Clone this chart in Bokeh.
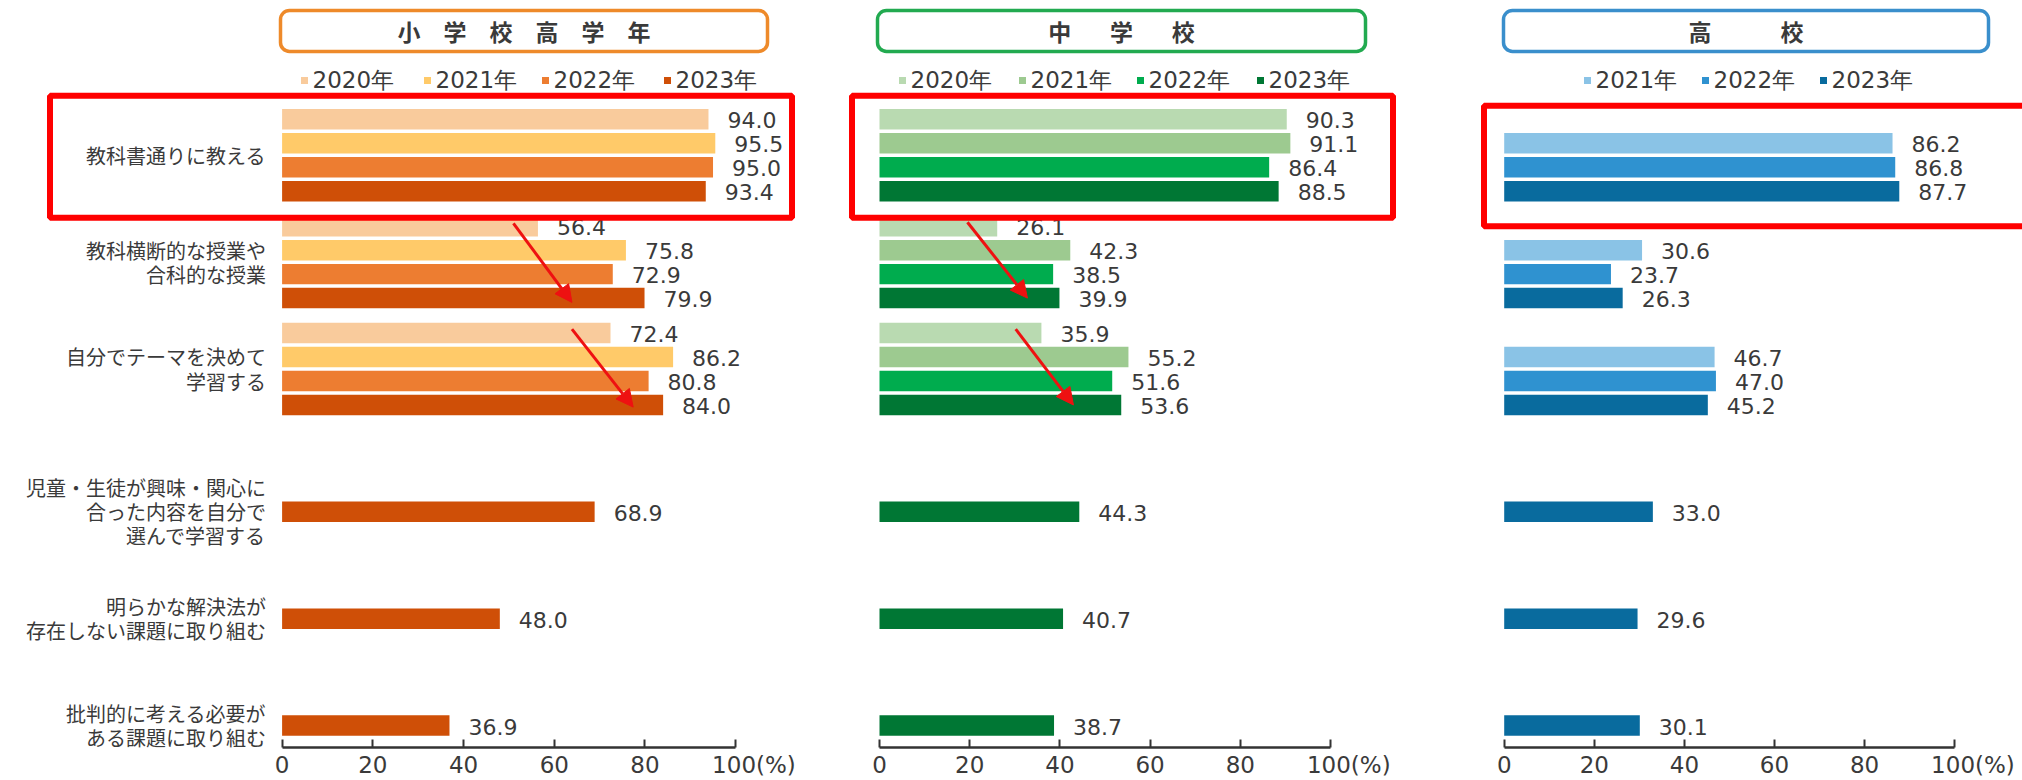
from bokeh.plotting import figure
from bokeh.models import (ColumnDataSource, Range1d, FixedTicker, BoxAnnotation,
                          Arrow, NormalHead)
from bokeh.layouts import row
from bokeh.core.properties import value
from bokeh.embed import file_html
from bokeh.resources import INLINE

# ---------------- data ----------------
categories = [
    "教科書通りに教える",
    "教科横断的な授業や\n合科的な授業",
    "自分でテーマを決めて\n学習する",
    "児童・生徒が興味・関心に\n合った内容を自分で\n選んで学習する",
    "明らかな解決法が\n存在しない課題に取り組む",
    "批判的に考える必要が\nある課題に取り組む",
]

elem_years = ["2020年", "2021年", "2022年", "2023年"]
elem_2020 = [94.0, 56.4, 72.4]
elem_2021 = [95.5, 75.8, 86.2]
elem_2022 = [95.0, 72.9, 80.8]
elem_2023 = [93.4, 79.9, 84.0, 68.9, 48.0, 36.9]
elem_colors = ["#F9CB9C", "#FFCA69", "#ED7D31", "#CF4F07"]

jhs_years = ["2020年", "2021年", "2022年", "2023年"]
jhs_2020 = [90.3, 26.1, 35.9]
jhs_2021 = [91.1, 42.3, 55.2]
jhs_2022 = [86.4, 38.5, 51.6]
jhs_2023 = [88.5, 39.9, 53.6, 44.3, 40.7, 38.7]
jhs_colors = ["#B9DAB1", "#9DCA90", "#00AC4E", "#007734"]

hs_years = ["2021年", "2022年", "2023年"]
hs_2021 = [86.2, 30.6, 46.7]
hs_2022 = [86.8, 23.7, 47.0]
hs_2023 = [87.7, 26.3, 45.2, 33.0, 29.6, 30.1]
hs_colors = ["#8AC3E6", "#2F92D0", "#096B9E"]

panel_titles = ["小　学　校　高　学　年",
                "中\u3000\u00a0\u00a0\u00a0学\u3000\u00a0\u00a0\u00a0校",
                "高\u3000\u3000\u3000校"]
title_colors = ["#EE8A2A", "#22AA50", "#3A8FCC"]

x_ticks = [0, 20, 40, 60, 80, 100]
x_tick_labels = ["0", "20", "40", "60", "80", "\u00a0" * 5 + "100(%)"]

# red arrows (start x, start y, end x, end y) in value / category units
elem_arrows = [(51.0, 0.30, 63.9, 1.04), (63.9, 1.29, 77.4, 2.02)]
jhs_arrows = [(19.5, 0.29, 32.8, 1.0), (30.2, 1.29, 43.0, 2.0)]

# ---------------- layout constants ----------------
UNIT = 107.0          # px between categories
Y0 = 191.0            # px of first category's newest bar
AXIS_PX = 748.0
PITCH = 24.0 / UNIT   # distance between year bars
BAR_H = 20.5 / UNIT
TEXT = "#3A3A3A"


def ypx(px):
    return (px - Y0) / UNIT


panels = [
    dict(width=830, left=0, x0=281.6, scale=4.536),
    dict(width=610, left=830, x0=879.0, scale=4.51),
    dict(width=582, left=1440, x0=1503.7, scale=4.505),
]


def make_fig(cfg):
    def xpx(px):
        return (px - cfg["x0"]) / cfg["scale"]
    p = figure(width=cfg["width"], height=780,
               x_range=Range1d(xpx(cfg["left"]), xpx(cfg["left"] + cfg["width"])),
               y_range=Range1d(ypx(AXIS_PX), ypx(0)),
               output_backend="svg", toolbar_location=None,
               y_axis_location=None,
               min_border_left=0, min_border_right=0,
               min_border_top=0, min_border_bottom=32)
    p.xgrid.visible = False
    p.ygrid.visible = False
    p.outline_line_color = None
    p.background_fill_color = "white"
    p.border_fill_color = "white"
    ax = p.xaxis[0]
    ax.ticker = FixedTicker(ticks=x_ticks)
    ax.major_label_overrides = {t: l for t, l in zip(x_ticks, x_tick_labels)}
    ax.bounds = (0, 100)
    ax.axis_line_color = "#333333"
    ax.axis_line_width = 2.5
    ax.major_tick_line_color = "#333333"
    ax.major_tick_line_width = 2
    ax.major_tick_in = 8
    ax.major_tick_out = 0
    ax.minor_tick_line_color = None
    ax.major_label_standoff = 4
    ax.major_label_text_font = "DejaVu Sans"
    ax.major_label_text_font_size = "23px"
    ax.major_label_text_color = TEXT
    return p, xpx


def add_panel(p, xpx, series, colors, years, legend_px, title, tcolor,
              box_px, red_px, arrows):
    n = len(series)
    ys, vs, cs, labels = [], [], [], []
    for j, (vals, col) in enumerate(zip(series, colors)):
        k = n - 1 - j
        for c, v in enumerate(vals):
            ys.append(c - k * PITCH)
            vs.append(v)
            cs.append(col)
            labels.append(f"{v:.1f}")
    src = ColumnDataSource(dict(y=ys, v=vs, c=cs, lbl=labels))
    p.hbar(y="y", left=0, right="v", height=BAR_H, fill_color="c",
           line_color=None, source=src)
    p.text(x="v", y="y", text="lbl", source=src, x_offset=19, y_offset=1,
           text_align="left", text_baseline="middle",
           text_font=value("DejaVu Sans"), text_font_size="22px",
           text_color=TEXT)

    # title box
    bx0, bx1 = box_px
    p.add_layout(BoxAnnotation(left=xpx(bx0), right=xpx(bx1), top=ypx(10),
                               bottom=ypx(51), fill_color=None, fill_alpha=0,
                               line_color=tcolor, line_alpha=1.0,
                               line_width=3.5, border_radius=9))
    p.text(x=[xpx((bx0 + bx1) / 2)], y=[ypx(31)], text=[title],
           text_align="center", text_baseline="middle",
           text_font=value("Noto Sans CJK JP"), text_font_size="23px",
           text_font_style="bold", text_color=TEXT)

    # legend
    lx = [xpx(px) for px in legend_px]
    ly = [ypx(80)] * len(lx)
    p.scatter(x=lx, y=ly, marker="square", size=7, fill_color=colors,
              line_color=None)
    p.text(x=lx, y=ly, text=years, x_offset=8, text_align="left",
           text_baseline="middle", text_font=value("DejaVu Sans"),
           text_font_size="23px", text_color=TEXT)

    # red highlight box
    rx0, rx1, ry0, ry1 = red_px
    p.add_layout(BoxAnnotation(left=xpx(rx0), right=xpx(rx1), top=ypx(ry0),
                               bottom=ypx(ry1), fill_color=None, fill_alpha=0,
                               line_color="#FF0000", line_alpha=1.0,
                               line_width=6))
    for (xs, ys_, xe, ye) in arrows:
        p.add_layout(Arrow(end=NormalHead(size=17, fill_color="#EE1111",
                                          line_color="#EE1111"),
                           x_start=xs, y_start=ys_, x_end=xe, y_end=ye,
                           line_color="#EE1111", line_width=3))


# ---- panel 1: elementary ----
p1, x1 = make_fig(panels[0])
add_panel(p1, x1, [elem_2020, elem_2021, elem_2022, elem_2023], elem_colors,
          elem_years, [304, 427, 545, 667], panel_titles[0], title_colors[0],
          (280, 767), (49.5, 791.5, 95.5, 217.5), elem_arrows)
cat_y = [c - 1.5 * PITCH if c < 3 else c for c in range(len(categories))]
p1.text(x=[0] * len(categories), y=cat_y, text=categories, x_offset=-16,
        text_align="right", text_baseline="middle",
        text_font=value("Noto Sans CJK JP"), text_font_size="20px",
        text_line_height=0.83, text_color=TEXT)

# ---- panel 2: junior high ----
p2, x2 = make_fig(panels[1])
add_panel(p2, x2, [jhs_2020, jhs_2021, jhs_2022, jhs_2023], jhs_colors,
          jhs_years, [902, 1022, 1140, 1260], panel_titles[1], title_colors[1],
          (877, 1365), (851.5, 1392.5, 95.5, 217.5), jhs_arrows)

# ---- panel 3: high school ----
p3, x3 = make_fig(panels[2])
add_panel(p3, x3, [hs_2021, hs_2022, hs_2023], hs_colors,
          hs_years, [1587, 1705, 1823], panel_titles[2], title_colors[2],
          (1503, 1988), (1483.5, 2040, 105.5, 226), [])

layout = row(p1, p2, p3)
open("out.html", "w").write(file_html(layout, INLINE))
